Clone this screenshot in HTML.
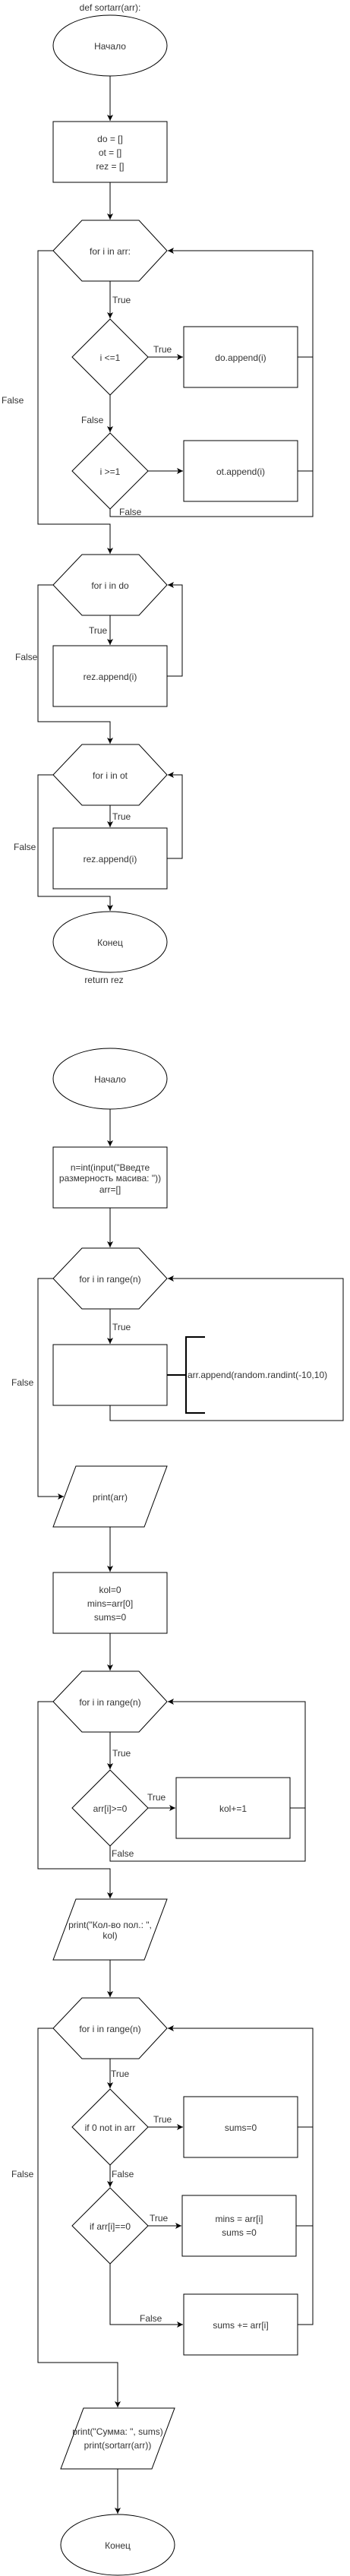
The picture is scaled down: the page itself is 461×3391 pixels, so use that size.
<!DOCTYPE html>
<html><head><meta charset="utf-8"><style>
html,body{margin:0;padding:0;background:#fff;}
svg{display:block;}
text{font-family:"Liberation Sans","DejaVu Sans",sans-serif;font-size:12px;fill:#333;}
.s{fill:#fff;stroke:#000;stroke-width:1;}
.l{fill:none;stroke:#000;stroke-width:1;}
</style></head><body>
<svg width="461" height="3391" viewBox="0 0 461 3391" xmlns="http://www.w3.org/2000/svg">
<defs><marker id="a" markerWidth="10" markerHeight="10" refX="8" refY="4" orient="auto" markerUnits="userSpaceOnUse"><path d="M0,0 L8,4 L0,8 L2,4 Z" fill="#000"/></marker></defs>

<!-- Function 1 -->
<text x="145" y="14" text-anchor="middle">def sortarr(arr):</text>
<ellipse class="s" cx="145" cy="60" rx="75" ry="40"/>
<text x="145" y="65" text-anchor="middle">Начало</text>
<line class="l" x1="145" y1="100" x2="145" y2="159" marker-end="url(#a)"/>
<rect class="s" x="70" y="160" width="150" height="80"/>
<text x="145" y="187" text-anchor="middle">do = []</text>
<text x="145" y="205" text-anchor="middle">ot = []</text>
<text x="145" y="223" text-anchor="middle">rez = []</text>
<line class="l" x1="145" y1="240" x2="145" y2="289" marker-end="url(#a)"/>

<polygon class="s" points="108,290 183,290 220,330 183,370 108,370 70,330"/>
<text x="145" y="335" text-anchor="middle">for i in arr:</text>
<line class="l" x1="145" y1="370" x2="145" y2="419" marker-end="url(#a)"/>
<text x="148" y="119" dy="280" >True</text>
<polygon class="s" points="145,420 195,470 145,520 95,470"/>
<text x="145" y="475" text-anchor="middle">i &lt;=1</text>
<line class="l" x1="195" y1="470" x2="241" y2="470" marker-end="url(#a)"/>
<text x="202" y="464">True</text>
<rect class="s" x="242" y="430" width="150" height="80"/>
<text x="317" y="475" text-anchor="middle">do.append(i)</text>
<polyline class="l" points="392,470 412,470"/>
<text x="2" y="531">False</text>
<line class="l" x1="145" y1="520" x2="145" y2="569" marker-end="url(#a)"/>
<text x="107" y="557">False</text>
<polygon class="s" points="145,570 195,620 145,670 95,620"/>
<text x="145" y="625" text-anchor="middle">i &gt;=1</text>
<line class="l" x1="195" y1="620" x2="241" y2="620" marker-end="url(#a)"/>
<rect class="s" x="242" y="580" width="150" height="80"/>
<text x="317" y="625" text-anchor="middle">ot.append(i)</text>
<polyline class="l" points="392,620 412,620"/>
<polyline class="l" points="145,670 145,680 412,680 412,330 221,330" marker-end="url(#a)"/>
<text x="157" y="678">False</text>
<polyline class="l" points="70,330 50,330 50,690 145,690 145,729" marker-end="url(#a)"/>

<polygon class="s" points="108,730 183,730 220,770 183,810 108,810 70,770"/>
<text x="145" y="775" text-anchor="middle">for i in do</text>
<line class="l" x1="145" y1="810" x2="145" y2="849" marker-end="url(#a)"/>
<text x="117" y="834">True</text>
<rect class="s" x="70" y="850" width="150" height="80"/>
<text x="145" y="895" text-anchor="middle">rez.append(i)</text>
<polyline class="l" points="220,890 240,890 240,770 221,770" marker-end="url(#a)"/>
<text x="20" y="869">False</text>
<polyline class="l" points="70,770 50,770 50,950 145,950 145,979" marker-end="url(#a)"/>

<polygon class="s" points="108,980 183,980 220,1020 183,1060 108,1060 70,1020"/>
<text x="145" y="1025" text-anchor="middle">for i in ot</text>
<line class="l" x1="145" y1="1060" x2="145" y2="1089" marker-end="url(#a)"/>
<text x="148" y="1079">True</text>
<rect class="s" x="70" y="1090" width="150" height="80"/>
<text x="145" y="1135" text-anchor="middle">rez.append(i)</text>
<polyline class="l" points="220,1130 240,1130 240,1020 221,1020" marker-end="url(#a)"/>
<text x="18" y="1119">False</text>
<polyline class="l" points="70,1020 50,1020 50,1180 145,1180 145,1199" marker-end="url(#a)"/>
<ellipse class="s" cx="145" cy="1240" rx="75" ry="40"/>
<text x="145" y="1245" text-anchor="middle">Конец</text>
<text x="137" y="1294" text-anchor="middle">return rez</text>

<!-- Main program -->
<ellipse class="s" cx="145" cy="1420" rx="75" ry="40"/>
<text x="145" y="1425" text-anchor="middle">Начало</text>
<line class="l" x1="145" y1="1460" x2="145" y2="1509" marker-end="url(#a)"/>
<rect class="s" x="70" y="1510" width="150" height="80"/>
<text x="145" y="1541" text-anchor="middle">n=int(input("Введте</text>
<text x="145" y="1555" text-anchor="middle">размерность масива: "))</text>
<text x="145" y="1570" text-anchor="middle">arr=[]</text>
<line class="l" x1="145" y1="1590" x2="145" y2="1642" marker-end="url(#a)"/>

<polygon class="s" points="108,1643 183,1643 220,1683 183,1723 108,1723 70,1683"/>
<text x="145" y="1688" text-anchor="middle">for i in range(n)</text>
<line class="l" x1="145" y1="1723" x2="145" y2="1769" marker-end="url(#a)"/>
<text x="148" y="1751">True</text>
<rect class="s" x="70" y="1770" width="150" height="80"/>
<line x1="220" y1="1810" x2="245" y2="1810" stroke="#000" stroke-width="2"/>
<polyline points="270,1760 245,1760 245,1860 270,1860" fill="none" stroke="#000" stroke-width="2"/>
<text x="247" y="1814">arr.append(random.randint(-10,10)</text>
<polyline class="l" points="145,1850 145,1870 452,1870 452,1683 221,1683" marker-end="url(#a)"/>
<text x="15" y="1824">False</text>
<polyline class="l" points="70,1683 50,1683 50,1970 84,1970" marker-end="url(#a)"/>

<polygon class="s" points="100,1930 220,1930 190,2010 70,2010"/>
<text x="145" y="1975" text-anchor="middle">print(arr)</text>
<line class="l" x1="145" y1="2010" x2="145" y2="2069" marker-end="url(#a)"/>
<rect class="s" x="70" y="2070" width="150" height="80"/>
<text x="145" y="2097" text-anchor="middle">kol=0</text>
<text x="145" y="2115" text-anchor="middle">mins=arr[0]</text>
<text x="145" y="2133" text-anchor="middle">sums=0</text>
<line class="l" x1="145" y1="2150" x2="145" y2="2199" marker-end="url(#a)"/>

<polygon class="s" points="108,2200 183,2200 220,2240 183,2280 108,2280 70,2240"/>
<text x="145" y="2245" text-anchor="middle">for i in range(n)</text>
<line class="l" x1="145" y1="2280" x2="145" y2="2329" marker-end="url(#a)"/>
<text x="148" y="2312">True</text>
<polygon class="s" points="145,2330 195,2380 145,2430 95,2380"/>
<text x="145" y="2385" text-anchor="middle">arr[i]&gt;=0</text>
<line class="l" x1="195" y1="2380" x2="231" y2="2380" marker-end="url(#a)"/>
<text x="194" y="2370">True</text>
<rect class="s" x="232" y="2340" width="150" height="80"/>
<text x="307" y="2385" text-anchor="middle">kol+=1</text>
<polyline class="l" points="382,2380 402,2380"/>
<polyline class="l" points="145,2430 145,2450 402,2450 402,2240 221,2240" marker-end="url(#a)"/>
<text x="147" y="2444">False</text>
<polyline class="l" points="70,2240 50,2240 50,2460 145,2460 145,2499" marker-end="url(#a)"/>

<polygon class="s" points="100,2500 220,2500 190,2580 70,2580"/>
<text x="145" y="2538" text-anchor="middle">print("Кол-во пол.: ",</text>
<text x="145" y="2552" text-anchor="middle">kol)</text>
<line class="l" x1="145" y1="2580" x2="145" y2="2629" marker-end="url(#a)"/>

<polygon class="s" points="108,2630 183,2630 220,2670 183,2710 108,2710 70,2670"/>
<text x="145" y="2675" text-anchor="middle">for i in range(n)</text>
<line class="l" x1="145" y1="2710" x2="145" y2="2749" marker-end="url(#a)"/>
<text x="146" y="2734">True</text>
<polygon class="s" points="145,2750 195,2800 145,2850 95,2800"/>
<text x="145" y="2805" text-anchor="middle">if 0 not in arr</text>
<line class="l" x1="195" y1="2800" x2="241" y2="2800" marker-end="url(#a)"/>
<text x="202" y="2794">True</text>
<rect class="s" x="242" y="2760" width="150" height="80"/>
<text x="317" y="2805" text-anchor="middle">sums=0</text>
<polyline class="l" points="392,2800 412,2800"/>
<line class="l" x1="145" y1="2850" x2="145" y2="2879" marker-end="url(#a)"/>
<text x="147" y="2866">False</text>
<text x="15" y="2866">False</text>
<polygon class="s" points="145,2880 195,2930 145,2980 95,2930"/>
<text x="145" y="2935" text-anchor="middle">if arr[i]==0</text>
<line class="l" x1="195" y1="2930" x2="239" y2="2930" marker-end="url(#a)"/>
<text x="197" y="2924">True</text>
<rect class="s" x="240" y="2890" width="150" height="80"/>
<text x="315" y="2925" text-anchor="middle">mins = arr[i]</text>
<text x="315" y="2943" text-anchor="middle">sums =0</text>
<polyline class="l" points="390,2930 412,2930"/>
<polyline class="l" points="145,2980 145,3060 241,3060" marker-end="url(#a)"/>
<text x="184" y="3056">False</text>
<rect class="s" x="242" y="3020" width="150" height="80"/>
<text x="317" y="3065" text-anchor="middle">sums += arr[i]</text>
<polyline class="l" points="392,3060 412,3060 412,2670 221,2670" marker-end="url(#a)"/>
<polyline class="l" points="70,2670 50,2670 50,3110 155,3110 155,3169" marker-end="url(#a)"/>

<polygon class="s" points="110,3170 230,3170 200,3250 80,3250"/>
<text x="155" y="3205" text-anchor="middle">print("Сумма: ", sums)</text>
<text x="155" y="3223" text-anchor="middle">print(sortarr(arr))</text>
<line class="l" x1="155" y1="3250" x2="155" y2="3309" marker-end="url(#a)"/>
<ellipse class="s" cx="155" cy="3350" rx="75" ry="40"/>
<text x="155" y="3355" text-anchor="middle">Конец</text>
</svg>
</body></html>
